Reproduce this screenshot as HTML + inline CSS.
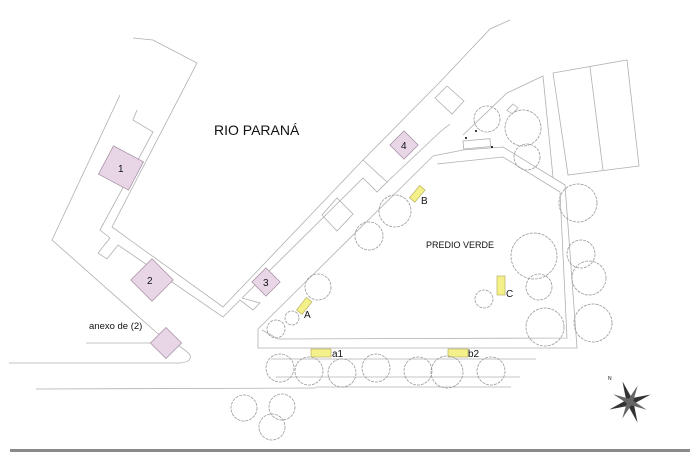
<!DOCTYPE html>
<html><head><meta charset="utf-8"><style>
html,body{margin:0;padding:0;background:#fff;}
svg{display:block;}
text{font-family:"Liberation Sans",sans-serif;fill:#111;}
</style></head><body>
<svg width="696" height="453" viewBox="0 0 696 453" xmlns="http://www.w3.org/2000/svg">
<g fill="none" stroke="#b0b0b0" stroke-width="0.8">
<polyline points="133,38 153,40 197,63 112,227 223,307 363,160 440,82 490,29 510,20"/>
<polyline points="120,95 52,240 157,333"/>
<path d="M157,333 Q185,348 190,355 Q192,362 180,363 L9,363"/>
<polyline points="137,110 133,120 153,132 100,230 110,238 98,253 107,259 118,245 223,317 240,300 253,310 260,303 242,298"/>
<polyline points="242,298 363,178 377,192 387,182 363,160"/>
<polyline points="387,182 440,132 450,124"/>
<polygon points="322,215 337,198 353,214 337,231"/>
<polygon points="435,98 447,86 464,101 452,114"/>
<polyline points="433,156 463,150 503,147 565,185 577,348 258,348 258,329 433,156"/>
<polyline points="437,164 503,157 560,192 567,338 278,339 262,330"/>
<polyline points="463,135 507,93 543,76 553,177"/>
<polygon points="553,73 627,60 639,166 568,175"/>
<line x1="590" y1="67" x2="603" y2="170"/>
<polygon points="507,110 513,104 518,108 512,114"/>
<rect x="463" y="141" width="27" height="8" transform="rotate(-5 463 141)"/>
<line x1="36" y1="389" x2="316" y2="388"/>
<line x1="271" y1="359" x2="536" y2="359"/>
<line x1="276" y1="377" x2="520" y2="377"/>
<line x1="316" y1="387" x2="511" y2="387"/>
<line x1="86" y1="343" x2="152" y2="343"/>
</g>
<g fill="#e8d6e6" stroke="#a08ca0" stroke-width="0.7">
<rect x="104" y="152" width="34" height="32" transform="rotate(28 121 168)"/>
<rect x="137" y="265" width="30" height="30" transform="rotate(45 152 280)"/>
<rect x="256" y="272" width="20" height="20" transform="rotate(45 266 282)"/>
<rect x="394" y="135" width="20" height="20" transform="rotate(45 404 145)"/>
<rect x="155" y="332" width="22" height="22" transform="rotate(45 166 343)"/>
</g>
<g fill="#f4f08a" stroke="#b8b060" stroke-width="0.7">
<rect x="297" y="303" width="16" height="7" transform="rotate(-52 304 307)"/>
<rect x="410" y="191" width="16" height="7" transform="rotate(-50 417 195)"/>
<rect x="497" y="276" width="8" height="19"/>
<rect x="311" y="349" width="20" height="8"/>
<rect x="448" y="349" width="20" height="8"/>
</g>
<g fill="none" stroke="#999" stroke-width="0.8" stroke-dasharray="3 1">
<circle cx="487" cy="119" r="13"/><circle cx="523" cy="128" r="18"/><circle cx="527" cy="157" r="13"/>
<circle cx="578" cy="203" r="19"/><circle cx="395" cy="211" r="16"/><circle cx="369" cy="236" r="14"/>
<circle cx="534" cy="256" r="23"/><circle cx="581" cy="254" r="14"/><circle cx="589" cy="278" r="17"/>
<circle cx="539" cy="287" r="13"/><circle cx="545" cy="327" r="19"/><circle cx="593" cy="323" r="19"/>
<circle cx="318" cy="287" r="13"/><circle cx="292" cy="318" r="7"/><circle cx="276" cy="329" r="9"/>
<circle cx="484" cy="299" r="9"/>
<circle cx="280" cy="368" r="14"/><circle cx="309" cy="371" r="14"/><circle cx="342" cy="373" r="14"/>
<circle cx="376" cy="368" r="14"/><circle cx="418" cy="371" r="14"/><circle cx="447" cy="372" r="16"/>
<circle cx="491" cy="371" r="14"/>
<circle cx="244" cy="408" r="13"/><circle cx="282" cy="407" r="13"/><circle cx="272" cy="427" r="13"/>
</g>
<g fill="#000"><circle cx="466" cy="138" r="1"/><circle cx="476" cy="131" r="1"/><circle cx="492" cy="147" r="1"/></g>
<g transform="translate(630,402)">
<polygon points="0,-22 3,-3 22,0 3,3 0,22 -3,3 -22,0 -3,-3" fill="#333" transform="rotate(-20)"/>
<polygon points="-13,-13 2,-2 13,13 -2,2" fill="#666" transform="rotate(-20)"/>
<polygon points="13,-13 2,2 -13,13 -2,-2" fill="#666" transform="rotate(-20)"/>
<text x="-22" y="-22" font-size="5">N</text>
</g>
<rect x="10" y="449" width="680" height="3" fill="#8a8a8a"/>
<text x="214" y="135" font-size="14">RIO PARANÁ</text>
<text x="426" y="248" font-size="9">PREDIO VERDE</text>
<g font-size="10">
<text x="118" y="172">1</text><text x="147" y="284">2</text><text x="263" y="286">3</text><text x="401" y="149">4</text>
<text x="89" y="329" font-family="DejaVu Sans" font-size="9.5">anexo de (2)</text>
<text x="304" y="318">A</text><text x="421" y="204">B</text><text x="506" y="297">C</text>
<text x="332" y="357">a1</text><text x="468" y="357">b2</text>
</g>
</svg>
</body></html>
